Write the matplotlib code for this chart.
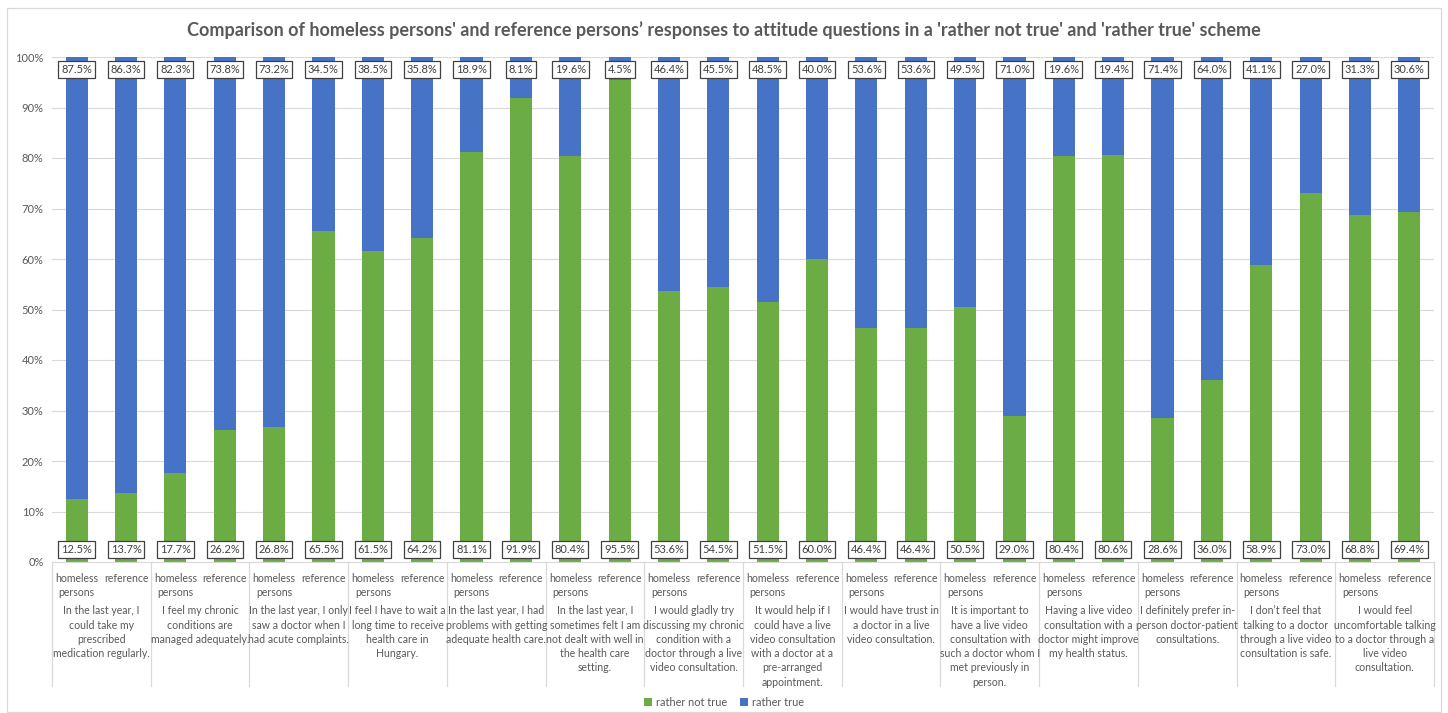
import matplotlib.pyplot as plt
import matplotlib.transforms as mtransforms
from matplotlib.patches import Rectangle
import numpy as np

plt.rcParams['font.family'] = ['Lato', 'DejaVu Sans']

# data
questions = [
    "In the last year, I\ncould take my\nprescribed\nmedication regularly.",
    "I feel my chronic\nconditions are\nmanaged adequately.",
    "In the last year, I only\nsaw a doctor when I\nhad acute complaints.",
    "I feel I have to wait a\nlong time to receive\nhealth care in\nHungary.",
    "In the last year, I had\nproblems with getting\nadequate health care.",
    "In the last year, I\nsometimes felt I am\nnot dealt with well in\nthe health care\nsetting.",
    "I would gladly try\ndiscussing my chronic\ncondition with a\ndoctor through a live\nvideo consultation.",
    "It would help if I\ncould have a live\nvideo consultation\nwith a doctor at a\npre-arranged\nappointment.",
    "I would have trust in\na doctor in a live\nvideo consultation.",
    "It is important to\nhave a live video\nconsultation with\nsuch a doctor whom I\nmet previously in\nperson.",
    "Having a live video\nconsultation with a\ndoctor might improve\nmy health status.",
    "I definitely prefer in-\nperson doctor-patient\nconsultations.",
    "I don\u2019t feel that\ntalking to a doctor\nthrough a live video\nconsultation is safe.",
    "I would feel\nuncomfortable talking\nto a doctor through a\nlive video\nconsultation.",
]
groups = ["homeless\npersons", "reference"]
not_true_homeless = [12.5, 17.7, 26.8, 61.5, 81.1, 80.4, 53.6, 51.5, 46.4, 50.5, 80.4, 28.6, 58.9, 68.8]
not_true_reference = [13.7, 26.2, 65.5, 64.2, 91.9, 95.5, 54.5, 60.0, 46.4, 29.0, 80.6, 36.0, 73.0, 69.4]
true_homeless = [87.5, 82.3, 73.2, 38.5, 18.9, 19.6, 46.4, 48.5, 53.6, 49.5, 19.6, 71.4, 41.1, 31.3]
true_reference = [86.3, 73.8, 34.5, 35.8, 8.1, 4.5, 45.5, 40.0, 53.6, 71.0, 19.4, 64.0, 27.0, 30.6]

green = '#6cac44'
blue = '#4673c6'
txt = '#595959'

n = len(questions)
not_true = np.array([v for pair in zip(not_true_homeless, not_true_reference) for v in pair])
rtrue = np.array([v for pair in zip(true_homeless, true_reference) for v in pair])
x = np.arange(2 * n)

fig = plt.figure(figsize=(14.48, 7.13), dpi=100)
ax = fig.add_axes([52 / 1448, 1 - 562 / 713, (1434 - 52) / 1448, (562 - 57) / 713])

ax.bar(x, not_true, 0.45, color=green, label='rather not true', zorder=2)
ax.bar(x, rtrue, 0.45, bottom=not_true, color=blue, label='rather true', zorder=2)

box = dict(boxstyle='square,pad=0.25', fc='white', ec='#404040', lw=0.9)
for xi, g, b in zip(x, not_true, rtrue):
    ax.text(xi, 2.5, f'{g:.1f}%', ha='center', va='center', fontsize=8, color='#404040', bbox=box, zorder=3)
    ax.text(xi, 97.5, f'{b:.1f}%', ha='center', va='center', fontsize=8, color='#404040', bbox=box, zorder=3)

ax.set_xlim(-0.5, 2 * n - 0.5)
ax.set_ylim(0, 100)
ax.set_yticks(np.arange(0, 101, 10))
ax.set_yticklabels([f'{t}%' for t in range(0, 101, 10)], fontsize=8, color=txt)
ax.yaxis.grid(True, color='#d9d9d9', lw=0.8, zorder=0)
ax.set_xticks([])
ax.tick_params(axis='y', length=0, pad=6)
for s in ['top', 'right', 'left']:
    ax.spines[s].set_visible(False)
ax.spines['bottom'].set_color('#d9d9d9')

# category axis labels
trans = mtransforms.blended_transform_factory(ax.transData, ax.transAxes)
for i, q in enumerate(questions):
    for j, g in enumerate(groups):
        ax.text(2 * i + j, -0.022, g, transform=trans, ha='center', va='top',
                fontsize=7.6, color=txt, linespacing=1.35)
    ax.text(2 * i + 0.5, -0.086, q, transform=trans, ha='center', va='top',
            fontsize=7.6, color=txt, linespacing=1.36)
for k in range(n + 1):
    ax.plot([2 * k - 0.5, 2 * k - 0.5], [0, -0.245], transform=trans, color='#d9d9d9',
            lw=0.9, clip_on=False)

fig.suptitle("Comparison of homeless persons' and reference persons\u2019 responses to attitude questions in a 'rather not true' and 'rather true' scheme",
             y=1 - 30 / 713, va='center', fontsize=13, fontweight='bold', color=txt)

fig.legend(loc='center', bbox_to_anchor=(0.5, 1 - 702 / 713), ncol=2, frameon=False,
           fontsize=7.8, handlelength=0.7, handleheight=0.7, columnspacing=1.2,
           handletextpad=0.4, labelcolor=txt)

fig.patches.append(Rectangle((7 / 1448, 0.002), 1434 / 1448, 1 - 9 / 713, transform=fig.transFigure,
                             fill=False, ec='#d9d9d9', lw=0.9))

fig.savefig('out.png', dpi=100)
